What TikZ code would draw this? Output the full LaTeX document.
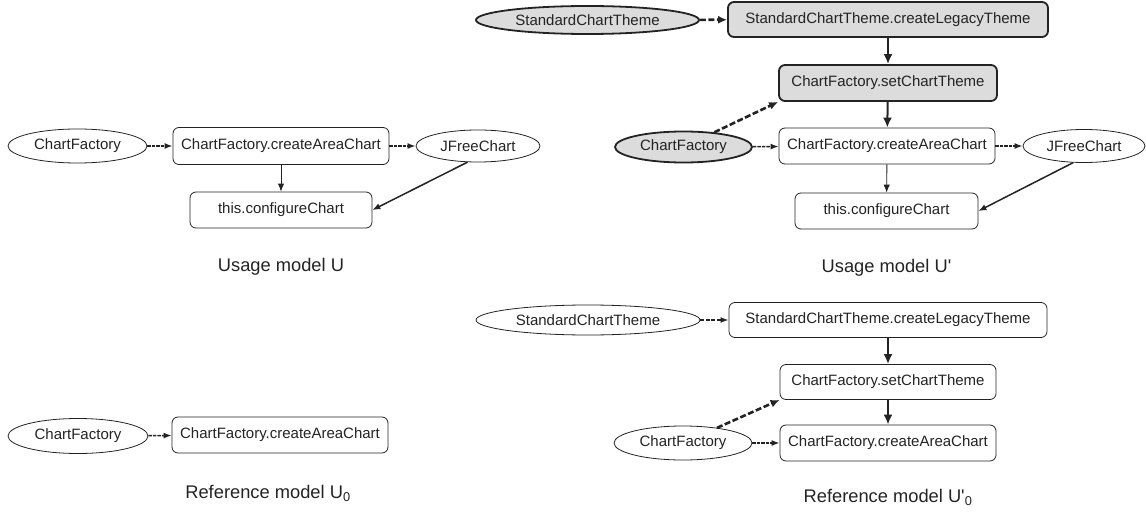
\documentclass[tikz,border=0pt]{standalone}
\usepackage{fontspec}
\newfontfamily\af{Liberation Sans}
\usetikzlibrary{shapes.geometric,arrows.meta}
\definecolor{hlgray}{RGB}{220,220,220}
\definecolor{ink}{RGB}{35,35,35}
\tikzset{
  ent/.style={ellipse, draw=ink, text=ink, line width=0.8pt, inner sep=0pt, font=\af\fontsize{15}{17}\selectfont},
  meth/.style={rectangle, rounded corners=6pt, draw=ink, text=ink, line width=0.8pt, inner sep=0pt, minimum height=36pt, font=\af\fontsize{15}{17}\selectfont},
  hl/.style={fill=hlgray, line width=1.8pt},
  captxt/.style={font=\af\fontsize{18.3}{21}\selectfont, text=ink, inner sep=0pt},
  data/.style={draw=ink, -{Latex[length=8pt,width=6pt]}, dash pattern=on 3.5pt off 1pt, line width=1.4pt},
  ctrl/.style={draw=ink, -{Latex[length=8pt,width=6.5pt]}, line width=0.9pt},
  hldata/.style={draw=ink, -{Latex[length=9pt,width=8pt]}, dash pattern=on 6pt off 2.5pt, line width=2.6pt},
  hlctrl/.style={draw=ink, -{Latex[length=10pt,width=9pt]}, line width=2pt},
}
\begin{document}
\begin{tikzpicture}[x=1pt,y=-1pt]
\useasboundingbox (0,0) rectangle (1146,516);
% ---- Usage model U
\node[ent, minimum width=139pt, minimum height=34pt] (cfa) at (77.5,146) {ChartFactory};
\node[meth, minimum width=216pt, minimum height=37pt] (caa) at (281,146) {ChartFactory.createAreaChart};
\node[ent, minimum width=124pt, minimum height=32pt] (jfa) at (478,146) {JFreeChart};
\node[meth, minimum width=182pt] (cca) at (281,210) {this.configureChart};
\node[captxt] (capa) at (281,267) {Usage model U};
\draw[data] (cfa) -- (caa);
\draw[data] (caa) -- (jfa);
\draw[ctrl] (caa) -- (cca);
\draw[ctrl, line width=1.5pt] (jfa.237) -- (cca.east);
% ---- Reference model U0
\node[ent, minimum width=140pt, minimum height=35pt] (cfb) at (78,436) {ChartFactory};
\node[meth, minimum width=216pt] (cab) at (280,435) {ChartFactory.createAreaChart};
\node[captxt] (capb) at (268,493) {Reference model U\textsubscript{0}};
\draw[data] (cfb) -- (cab);
% ---- Usage model U'
\node[ent, hl, minimum width=223pt, minimum height=28pt] (scta) at (587.5,20) {StandardChartTheme};
\node[meth, hl, minimum width=320pt, minimum height=35pt] (lega) at (888,19.5) {StandardChartTheme.createLegacyTheme};
\node[meth, hl, minimum width=218pt] (seta) at (888,83) {ChartFactory.setChartTheme};
\node[ent, hl, minimum width=137pt, minimum height=31pt] (cfc) at (683.5,147) {ChartFactory};
\node[meth, minimum width=216pt] (cac) at (887,146) {ChartFactory.createAreaChart};
\node[ent, minimum width=122pt, minimum height=33pt] (jfc) at (1084,146) {JFreeChart};
\node[meth, minimum width=183pt] (ccc) at (886.5,211) {this.configureChart};
\node[captxt] (capc) at (886.5,268) {Usage model U'};
\draw[hldata] (scta) -- (lega);
\draw[hlctrl] (lega) -- (seta);
\draw[hlctrl] (seta) -- (cac);
\draw[hldata] (cfc) -- (seta.south west);
\draw[data] (cfc) -- (cac);
\draw[data] (cac) -- (jfc);
\draw[ctrl] (cac) -- (ccc);
\draw[ctrl, line width=1.5pt] (jfc.237) -- (ccc.east);
% ---- Reference model U'0
\node[ent, minimum width=224pt, minimum height=30pt] (sctb) at (588,320) {StandardChartTheme};
\node[meth, minimum width=318pt, minimum height=35pt] (legb) at (888,320) {StandardChartTheme.createLegacyTheme};
\node[meth, minimum width=216pt, minimum height=35pt] (setb) at (888,382) {ChartFactory.setChartTheme};
\node[ent, minimum width=138pt, minimum height=34pt] (cfd) at (683,443) {ChartFactory};
\node[meth, minimum width=216pt] (cad) at (888,443) {ChartFactory.createAreaChart};
\node[captxt] (capd) at (888,497) {Reference model U'\textsubscript{0}};
\draw[data, line width=1.8pt, dash pattern=on 4pt off 1.5pt] (sctb) -- (legb);
\draw[hlctrl] (legb) -- (setb);
\draw[hlctrl] (setb) -- (cad);
\draw[hldata] (cfd) -- (setb.south west);
\draw[data] (cfd) -- (cad);
\end{tikzpicture}
\end{document}
